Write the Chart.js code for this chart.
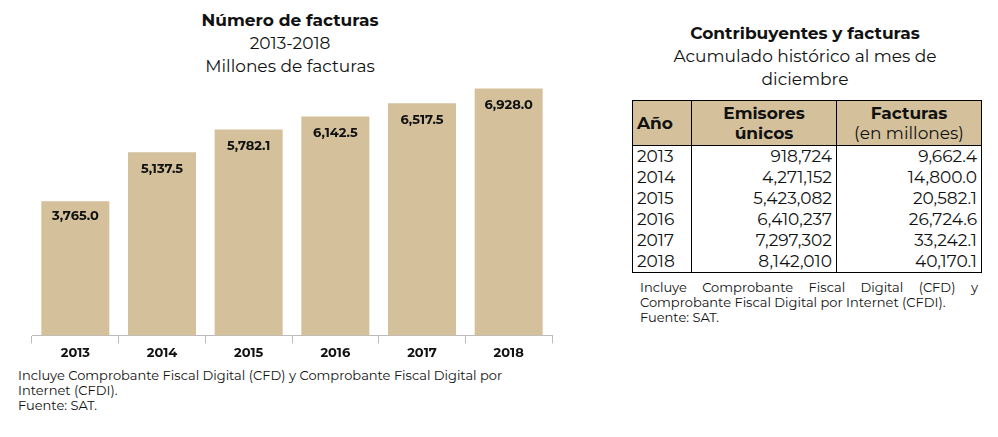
<!DOCTYPE html>
<html><head><meta charset="utf-8">
<script src="https://cdn.jsdelivr.net/npm/chart.js@4"></script>
<style>
body{margin:0;width:998px;height:437px;background:#fff;font-family:"Montserrat","Lato","Open Sans",sans-serif;color:#111;position:relative;overflow:hidden}
.t{position:absolute;text-align:center;font-size:17px;line-height:23px}
#cw{position:absolute;left:0;top:80px;width:570px;height:283px}
.note{position:absolute;font-size:13px;line-height:15px}
table{position:absolute;left:632px;top:100px;width:350px;border-collapse:collapse;font-size:17px;table-layout:fixed}
th{background:#D4C19C;font-weight:bold;line-height:20px;border:1.5px solid #000;padding:2px 4px}
td{line-height:21px;padding:0 4px;text-align:right;border-left:1.5px solid #000;border-right:1.5px solid #000}
td:first-child{text-align:left}
tr:last-child td{border-bottom:1.5px solid #000}
</style></head><body>
<div class="t" style="left:90px;width:400px;top:9px"><b>Número de facturas</b><br>2013-2018<br>Millones de facturas</div>
<div id="cw"><canvas id="c"></canvas></div>
<div class="note" style="left:18px;top:368px;width:530px">Incluye Comprobante Fiscal Digital (CFD) y Comprobante Fiscal Digital por Internet (CFDI).<br>Fuente: SAT.</div>
<div class="t" style="left:630px;width:350px;top:22px"><b>Contribuyentes y facturas</b><br>Acumulado histórico al mes de diciembre</div>
<table id="tb"><tr><th style="width:50px;text-align:left">Año</th><th style="width:136px">Emisores<br>únicos</th><th>Facturas<br><span style="font-weight:normal">(en millones)</span></th></tr></table>
<div class="note" style="left:640px;top:280px;width:338px;text-align:justify">Incluye Comprobante Fiscal Digital (CFD) y Comprobante Fiscal Digital por Internet (CFDI).<br>Fuente: SAT.</div>
<script>
const years=["2013","2014","2015","2016","2017","2018"];
const facturas=[3765.0,5137.5,5782.1,6142.5,6517.5,6928.0];
const emisores=["918,724","4,271,152","5,423,082","6,410,237","7,297,302","8,142,010"];
const acumuladas=["9,662.4","14,800.0","20,582.1","26,724.6","33,242.1","40,170.1"];
const tb=document.getElementById('tb');
years.forEach((y,i)=>{const r=tb.insertRow();[y,emisores[i],acumuladas[i]].forEach(v=>{r.insertCell().textContent=v;});});
const fmt=v=>v.toLocaleString('en-US',{minimumFractionDigits:1,maximumFractionDigits:1});
new Chart(document.getElementById('c'),{type:'bar',
data:{labels:years,datasets:[{data:facturas,backgroundColor:'#D4C19C',barPercentage:0.785,categoryPercentage:1}]},
options:{responsive:true,maintainAspectRatio:false,animation:false,
layout:{padding:{left:32,right:18,top:6}},
plugins:{legend:{display:false},tooltip:{enabled:false}},
scales:{y:{display:false,min:0,max:7000},
x:{grid:{offset:true,drawOnChartArea:false,color:'#bbb',tickLength:8},border:{color:'#bbb'},
ticks:{color:'#111',padding:2,font:{family:'Montserrat, Lato, sans-serif',weight:'bold',size:13}}}}},
plugins:[{id:'lbl',afterDatasetsDraw(ch){const c=ch.ctx;c.save();c.font='bold 13px Montserrat, Lato, sans-serif';c.fillStyle='#111';c.textAlign='center';c.textBaseline='middle';
ch.getDatasetMeta(0).data.forEach((b,i)=>c.fillText(fmt(facturas[i]),b.x,b.y+(i==0?15:17)));c.restore();}}]
});
</script></body></html>
